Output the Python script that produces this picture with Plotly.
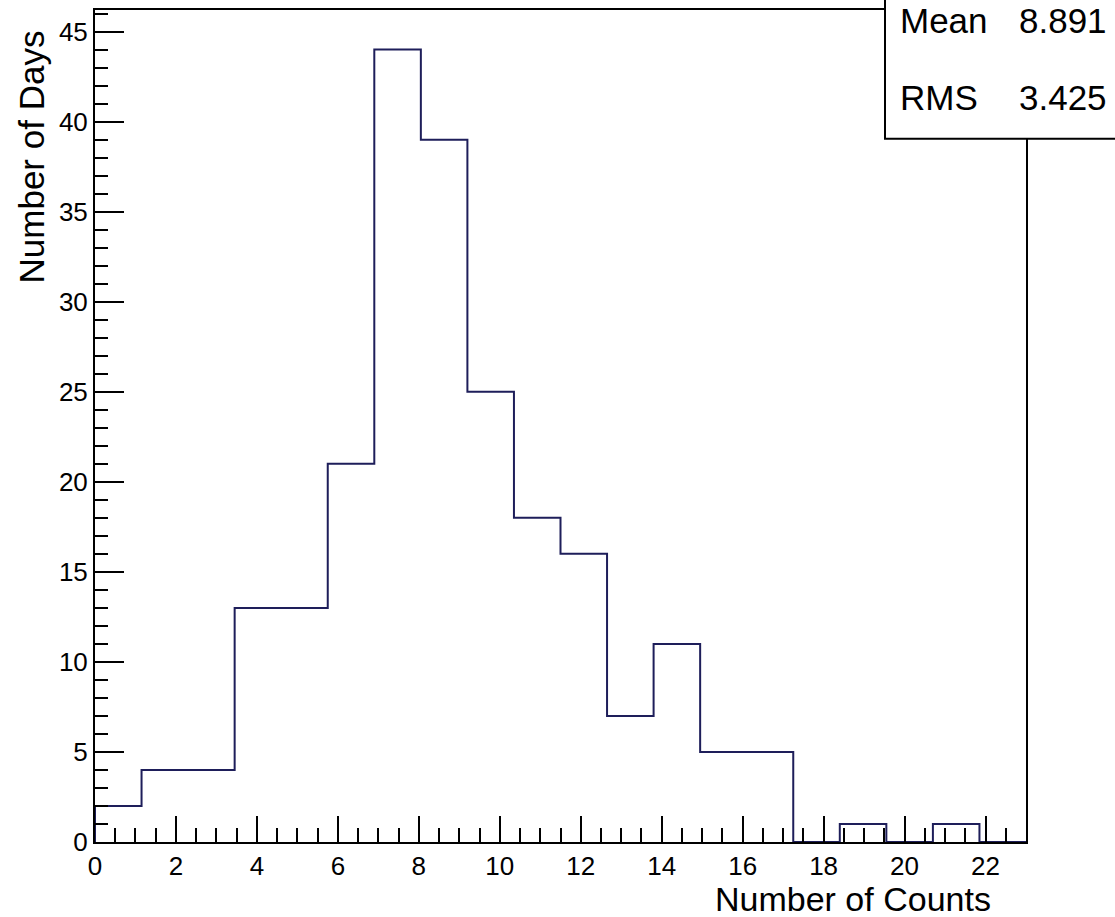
import plotly.graph_objects as go

# ---- data ----
bin_low = 0.0
bin_width = 1.15
counts = [2, 4, 4, 13, 13, 21, 44, 39, 25, 18, 16, 7, 11, 5, 5, 0, 1, 0, 1, 0]
x_range = [0, 23]
y_range = [0, 46.2]
stats_labels = ["Mean", "RMS"]
stats_values = ["8.891", "3.425"]
x_title = "Number of Counts"
y_title = "Number of Days"

# ---- geometry helpers (pixel -> paper) ----
L, R, T, B = 95, 1026, 8, 842
W, H = 1115, 917


def px_x(p):
    return (p - L) / (R - L)


def px_y(p):
    return (B - p) / (B - T)


edges = [bin_low + i * bin_width for i in range(len(counts) + 1)]
xs = [edges[0]] + edges
ys = [0] + counts + [counts[-1]]

LINE = "#1e1e5a"
SANS = "Liberation Sans, Arial, sans-serif"

fig = go.Figure()
fig.add_trace(go.Scatter(
    x=xs, y=ys, mode="lines", line=dict(shape="hv", color=LINE, width=2),
    hoverinfo="skip", showlegend=False, cliponaxis=False,
))

fig.update_layout(
    width=W, height=H,
    margin=dict(l=L, r=W - R, t=T, b=H - B, pad=0),
    paper_bgcolor="white", plot_bgcolor="white",
    showlegend=False,
    xaxis=dict(
        range=x_range, tick0=0, dtick=2, ticks="inside", ticklen=26, tickwidth=1.5,
        tickcolor="black", showgrid=False, zeroline=False,
        showline=True, linecolor="black", linewidth=2, mirror=True,
        tickfont=dict(family=SANS, size=26, color="black"),
        minor=dict(dtick=0.5, ticks="inside", ticklen=14, tickwidth=1.5, tickcolor="black", showgrid=False),
    ),
    yaxis=dict(
        range=y_range, tick0=0, dtick=5, ticks="inside", ticklen=29, tickwidth=1.5,
        tickcolor="black", showgrid=False, zeroline=False,
        showline=True, linecolor="black", linewidth=2, mirror=True,
        tickfont=dict(family=SANS, size=26, color="black"),
        minor=dict(dtick=1, ticks="inside", ticklen=13, tickwidth=1.5, tickcolor="black", showgrid=False),
    ),
)

# stats box
fig.add_shape(type="rect", xref="paper", yref="paper",
              x0=px_x(885), x1=px_x(1140), y0=px_y(137), y1=px_y(-20),
              line=dict(color="black", width=2), fillcolor="white", layer="above")

centers = [19, 96]
for lab, val, cy in zip(stats_labels, stats_values, centers):
    fig.add_annotation(text=lab, xref="paper", yref="paper", x=px_x(898), y=px_y(cy),
                       xanchor="left", yanchor="middle", showarrow=False,
                       font=dict(family=SANS, size=35, color="black"))
    fig.add_annotation(text=val, xref="paper", yref="paper", x=px_x(1109), y=px_y(cy),
                       xanchor="right", yanchor="middle", showarrow=False,
                       font=dict(family=SANS, size=35, color="black"))

# axis titles
fig.add_annotation(text=x_title, xref="paper", yref="paper", x=px_x(993), y=px_y(899),
                   xanchor="right", yanchor="middle", showarrow=False,
                   font=dict(family=SANS, size=34, color="black"))
fig.add_annotation(text=y_title, xref="paper", yref="paper", x=px_x(31), y=px_y(27),
                   xanchor="center", yanchor="top", textangle=-90, showarrow=False,
                   font=dict(family=SANS, size=35, color="black"))

fig.write_html("out.html")
